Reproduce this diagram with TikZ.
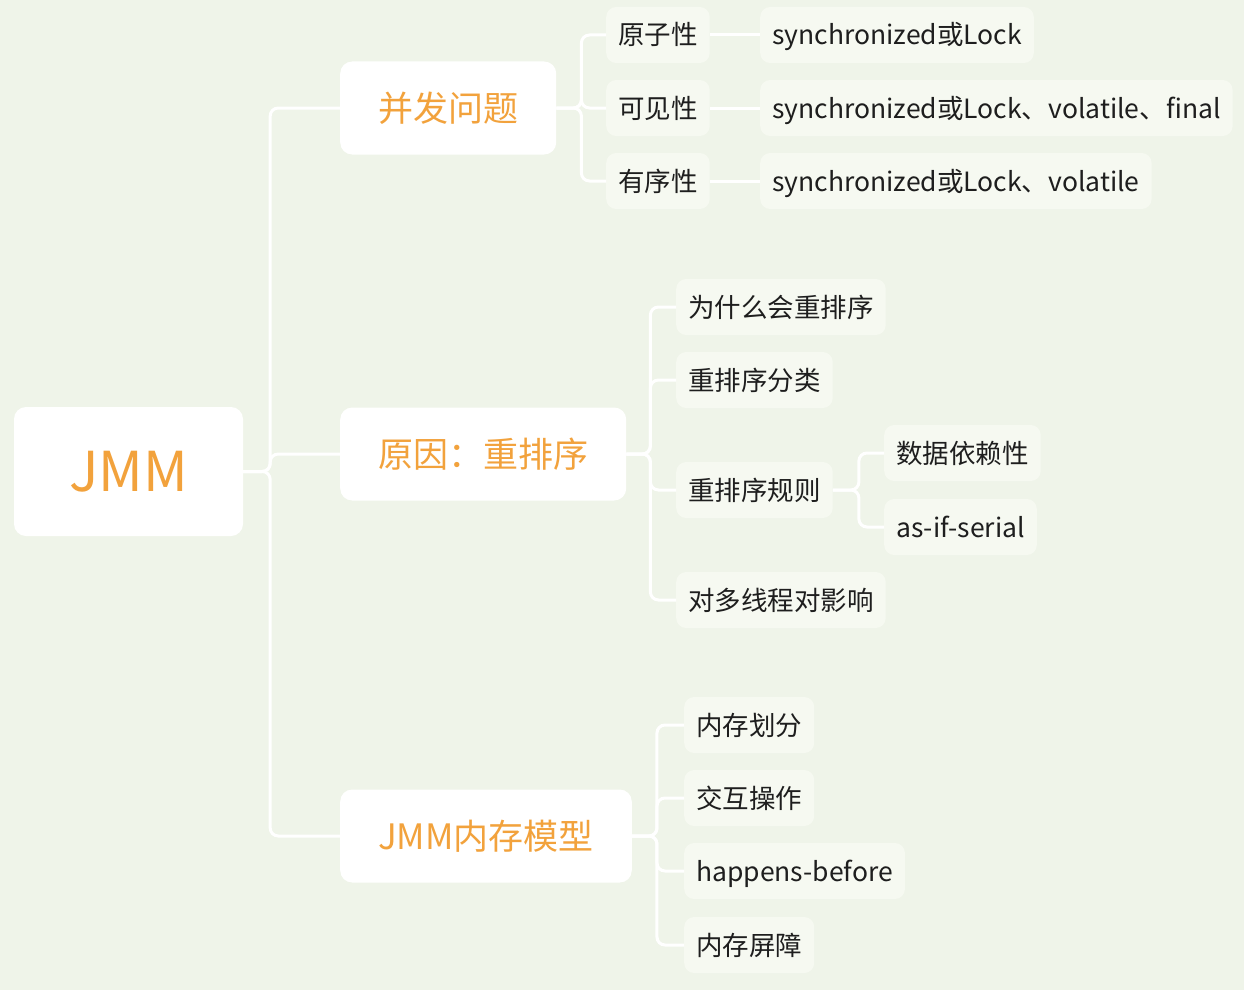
\documentclass[tikz,border=0pt]{standalone}
\usepackage{fontspec}
\setmainfont{Noto Sans CJK SC}
\definecolor{bgcol}{RGB}{239,244,233}
\definecolor{leafcol}{RGB}{246,249,241}
\definecolor{jmmorange}{RGB}{242,162,60}
\definecolor{textcol}{RGB}{30,30,30}
\tikzstyle{root}=[fill=white, rounded corners=12pt, minimum width=229pt, minimum height=129pt, font=\fontsize{55}{60}\selectfont, text=jmmorange]
\tikzstyle{topic}=[fill=white, rounded corners=12pt, inner xsep=38pt, minimum height=93pt, text height=30pt, text depth=4pt, font=\fontsize{35}{40}\selectfont, text=jmmorange, anchor=west]
\tikzstyle{leaf}=[fill=leafcol, rounded corners=10pt, inner xsep=12pt, minimum height=56pt, text height=23pt, text depth=3pt, font=\fontsize{26.5}{30}\selectfont, text=textcol, anchor=west]
\tikzstyle{branch}=[draw=white, line width=3pt, rounded corners=8pt]

\begin{document}
\begin{tikzpicture}[x=1pt, y=-1pt]
	\fill[bgcol] (0,0) rectangle (1244,990);
	\useasboundingbox (0,0) rectangle (1244,990);

	% First we draw the root and the three topics
	\node[root] (jmm) at (128.5,471.5) {JMM};
	\foreach \name/\pos/\txt in {{p1/(340,108)/并发问题}, {p2/(340,454)/原因：重排序}, {p3/(340,836)/JMM内存模型}}
		\node[topic] (\name) at \pos {\txt};

	% Then the leaves
	\foreach \name/\pos/\txt in {{a1/(606,35)/原子性}, {a2/(606,108)/可见性}, {a3/(606,181)/有序性},
		{s1/(760,35)/synchronized或Lock}, {s2/(760,108)/synchronized或Lock、volatile、final}, {s3/(760,181)/synchronized或Lock、volatile},
		{r1/(676,307)/为什么会重排序}, {r2/(676,380)/重排序分类}, {r3/(676,490)/重排序规则}, {r4/(676,600)/对多线程对影响},
		{d1/(884,453)/数据依赖性}, {d2/(884,527)/as-if-serial},
		{m1/(684,725)/内存划分}, {m2/(684,798)/交互操作}, {m3/(684,871)/happens-before}, {m4/(684,945)/内存屏障}}
		\node[leaf] (\name) at \pos {\txt};

	% Connect parents with children
	\foreach \dest in {p1, p2, p3}
		\draw[branch] (jmm.east) -- ++(27,0) |- (\dest.west);
	\foreach \dest in {a1, a2, a3}
		\draw[branch] (p1.east) -- ++(25,0) |- (\dest.west);
	\foreach \dest in {r1, r2, r3, r4}
		\draw[branch] (p2.east) -- ++(24,0) |- (\dest.west);
	\foreach \dest in {d1, d2}
		\draw[branch] (r3.east) -- ++(26,0) |- (\dest.west);
	\foreach \dest in {m1, m2, m3, m4}
		\draw[branch] (p3.east) -- ++(25,0) |- (\dest.west);
	\foreach \source/\dest in {a1/s1, a2/s2, a3/s3}
		\draw[branch] (\source.east) -- (\dest.west);
\end{tikzpicture}
\end{document}
